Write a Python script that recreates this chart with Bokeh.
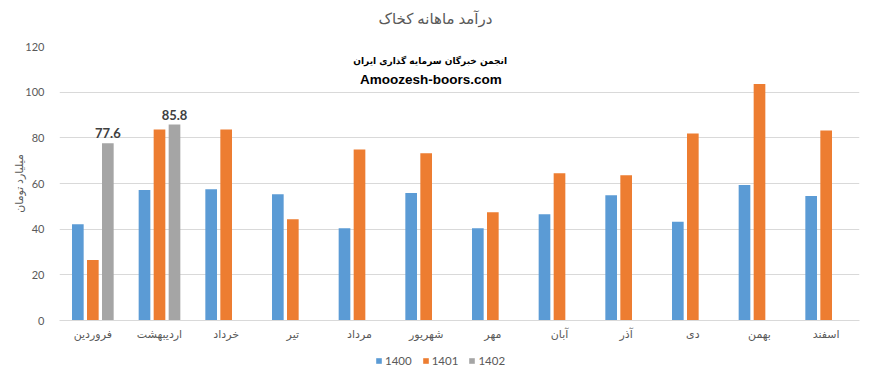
from bokeh.plotting import figure
from bokeh.models import ColumnDataSource, FactorRange, Range1d, Label, Legend, LegendItem, SingleIntervalTicker
from bokeh.layouts import column
from bokeh.transform import dodge
from bokeh.embed import file_html
from bokeh.resources import INLINE
from bokeh.core.properties import value

months = ["فروردین", "اردیبهشت", "خرداد", "تیر", "مرداد", "شهریور",
          "مهر", "آبان", "آذر", "دی", "بهمن", "اسفند"]
v1400 = [42.2, 57.1, 57.5, 55.3, 40.4, 55.8, 40.4, 46.5, 54.9, 43.2, 59.3, 54.5]
v1401 = [26.5, 83.6, 83.6, 44.3, 74.9, 73.2, 47.4, 64.5, 63.6, 81.9, 103.6, 83.2]
months1402 = ["فروردین", "اردیبهشت"]
v1402 = [77.6, 85.8]
series_names = ["1400", "1401", "1402"]
colors = ["#5B9BD5", "#ED7D31", "#A5A5A5"]
title_text = "درآمد ماهانه کخاک"
y_label = "میلیارد تومان"
wm1 = "انجمن خبرگان سرمایه گذاری ایران"
wm2 = "Amoozesh-boors.com"

FONT = "Lato, 'DejaVu Sans'"
GRAY = "#595959"
W = 861
BL, BR = 59, 2

src = ColumnDataSource(dict(m=months, a=v1400, b=v1401))
src3 = ColumnDataSource(dict(m=months1402, c=v1402, t=[f"{v:.1f}" for v in v1402]))

# ---- title strip
tf = figure(width=W, height=30, output_backend="svg", toolbar_location=None,
            x_range=Range1d(0, 1), y_range=Range1d(0, 30),
            x_axis_location=None, y_axis_location=None,
            min_border_left=BL, min_border_right=BR, min_border_top=0, min_border_bottom=0)
tf.outline_line_color = None
tf.grid.grid_line_color = None
tf.add_layout(Label(x=0.47, y=13, text=title_text, text_align="center", text_baseline="middle",
                    text_font=FONT, text_font_size="15px", text_color=GRAY))

# ---- main chart
p = figure(x_range=FactorRange(*months), y_range=Range1d(0, 120),
           width=W, height=314, output_backend="svg", toolbar_location=None,
           min_border_left=BL, min_border_right=BR, min_border_top=16, min_border_bottom=24)

bw = 0.175
r1 = p.vbar(x=dodge("m", -0.225, range=p.x_range), top="a", width=bw, source=src,
            color=colors[0], line_color=None)
r2 = p.vbar(x=dodge("m", 0.0, range=p.x_range), top="b", width=bw, source=src,
            color=colors[1], line_color=None)
r3 = p.vbar(x=dodge("m", 0.225, range=p.x_range), top="c", width=bw, source=src3,
            color=colors[2], line_color=None)
p.text(x=dodge("m", 0.225, range=p.x_range), y="c", text="t", source=src3,
       text_align="center", text_baseline="bottom", y_offset=-5,
       text_font=value(FONT), text_font_size="13px", text_font_style="bold",
       text_color="#404040")

p.outline_line_color = None
p.background_fill_color = "white"
p.border_fill_color = "white"
p.xgrid.grid_line_color = None
p.ygrid.grid_line_color = "#D9D9D9"
p.ygrid.grid_line_width = 1

p.yaxis.ticker = SingleIntervalTicker(interval=20)
p.yaxis.axis_line_color = None
p.yaxis.major_tick_line_color = None
p.yaxis.minor_tick_line_color = None
p.yaxis.major_tick_out = 0
p.yaxis.major_label_text_color = GRAY
p.yaxis.major_label_text_font = FONT
p.yaxis.major_label_text_font_size = "11px"
p.yaxis.major_label_standoff = 11
p.yaxis.axis_label = y_label
p.yaxis.axis_label_text_color = GRAY
p.yaxis.axis_label_text_font = FONT
p.yaxis.axis_label_text_font_size = "11px"
p.yaxis.axis_label_text_font_style = "normal"
p.yaxis.axis_label_standoff = -3

p.xaxis.axis_line_color = "#D9D9D9"
p.xaxis.major_tick_line_color = None
p.xaxis.minor_tick_line_color = None
p.xaxis.major_tick_out = 0
p.xaxis.major_label_text_color = GRAY
p.xaxis.major_label_text_font = FONT
p.xaxis.major_label_text_font_size = "11px"
p.xaxis.major_label_standoff = 6

p.add_layout(Label(x=5.56, y=113.6, text=wm1, text_align="center", text_baseline="middle",
                   text_font="'DejaVu Sans'", text_font_size="9px", text_font_style="bold",
                   text_color="black"))
p.add_layout(Label(x=5.57, y=105.4, text=wm2, text_align="center", text_baseline="middle",
                   text_font="'Liberation Sans'", text_font_size="13.5px", text_font_style="bold",
                   text_color="black"))

# ---- legend strip
lg = figure(width=W, height=30, output_backend="svg", toolbar_location=None,
            x_range=Range1d(0, 800), y_range=Range1d(0, 30),
            x_axis_location=None, y_axis_location=None,
            min_border_left=BL, min_border_right=BR, min_border_top=0, min_border_bottom=0)
lg.outline_line_color = None
lg.grid.grid_line_color = None
lrs = [lg.vbar(x=[-100], top=[-100], width=1, color=c, line_color=None) for c in colors]
legend = Legend(items=[LegendItem(label=n, renderers=[r]) for n, r in zip(series_names, lrs)],
                orientation="horizontal", location=(316, 7),
                label_text_font=FONT, label_text_font_size="11.5px", label_text_color=GRAY,
                glyph_width=7, glyph_height=7, label_height=12, label_standoff=3, spacing=10,
                padding=0, margin=0, border_line_color=None, background_fill_alpha=0)
lg.add_layout(legend, "center")

open("out.html", "w").write(file_html(column(tf, p, lg, spacing=0), INLINE))
